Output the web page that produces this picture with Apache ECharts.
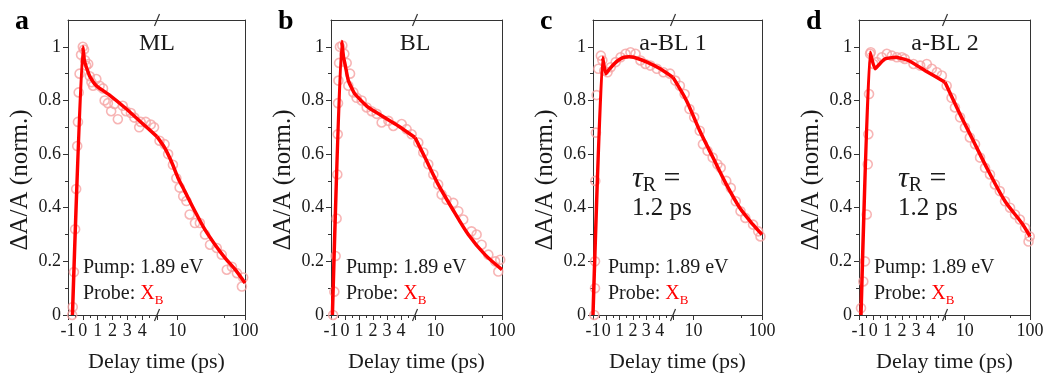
<!DOCTYPE html>
<html><head><meta charset="utf-8">
<script src="https://cdn.jsdelivr.net/npm/echarts@6/dist/echarts.min.js"></script>
<style>html,body{margin:0;padding:0;background:#fff}#c{width:1048px;height:376px}</style>
</head><body><div id="c"></div>
<script>
// ---------- texts / ticks ----------
const panelLetters = ['a', 'b', 'c', 'd'];
const panelTitles = ['ML', 'BL', 'a-BL 1', 'a-BL 2'];
const xTickLabelsLin = [-1, 0, 1, 2, 3, 4];
const xTickLabelsLog = [10, 100];
const xMinorLog = [50];
const yTickLabels = [0, 0.2, 0.4, 0.6, 0.8, 1];
const yMinorTicks = [0.1, 0.3, 0.5, 0.7, 0.9];
const showTau = [false, false, true, true];
const pumpText = 'Pump: 1.89 eV';
const tauValue = '1.2 ps';
const BREAK_T = 5;

// ---------- data: [delay (ps), ΔA/A norm.] ----------
const mlPoints = [[-0.72,0.0],[-0.68,0.03],[-0.6,0.16],[-0.52,0.32],[-0.45,0.47],[-0.38,0.63],[-0.33,0.72],[-0.28,0.83],[-0.22,0.9],[-0.12,0.97],[0.0,1.0],[0.08,0.99],[0.15,0.95],[0.22,0.93],[0.36,0.936],[0.47,0.89],[0.58,0.868],[0.69,0.855],[0.91,0.88],[1.13,0.855],[1.36,0.845],[1.47,0.8],[1.69,0.79],[1.91,0.76],[2.13,0.787],[2.36,0.73],[2.69,0.78],[2.91,0.76],[3.24,0.753],[3.47,0.736],[3.8,0.7],[3.9,0.72],[4.24,0.72],[4.58,0.71],[4.8,0.7],
  [5.45,0.65],[6.47,0.637],[7.3,0.6],[8.6,0.56],[9.66,0.51],[10.8,0.475],[12.2,0.443],[13.6,0.425],[15.2,0.375],[18.2,0.343],[21.5,0.343],[25.6,0.3],[30.4,0.262],[38.2,0.25],[45.3,0.225],[53.8,0.169],[64,0.18],[76,0.156],[90,0.106],[94,0.14]];
const mlFit = [[-0.7,0.0],[0.0,1.0],[0.1,0.95],[0.24,0.924],[0.47,0.89],[0.91,0.855],[1.8,0.82],[2.9,0.77],[4.0,0.715],[5,0.665],[6.47,0.624],[8.1,0.574],[10.2,0.512],[12.85,0.462],[18.2,0.387],[25.6,0.318],[36.1,0.262],[50.9,0.212],[71.8,0.169],[100,0.119]];

const blPoints = [[-0.85,0.0],[-0.76,0.087],[-0.67,0.22],[-0.6,0.36],[-0.55,0.524],[-0.52,0.674],[-0.5,0.79],[-0.47,0.874],[-0.42,0.94],[-0.36,1.0],[-0.19,1.005],[-0.05,0.974],[0.12,0.94],[0.24,0.855],[0.36,0.9],[0.6,0.83],[0.83,0.81],[1.19,0.8],[1.55,0.774],[1.9,0.76],[2.26,0.75],[2.62,0.718],[3.1,0.724],[3.45,0.705],[4.05,0.712],[4.4,0.693],[4.76,0.674],
  [5.6,0.643],[6.65,0.606],[7.9,0.562],[9.4,0.524],[11.1,0.487],[12.5,0.449],[14.8,0.43],[18.7,0.418],[22.2,0.387],[26.3,0.356],[35,0.312],[41.7,0.3],[49.6,0.262],[62.5,0.225],[79,0.2],[88,0.162],[94,0.206]];
const blFit = [[-0.9,0.0],[-0.24,1.02],[-0.1,0.96],[0.0,0.936],[0.24,0.874],[0.71,0.824],[1.67,0.774],[2.62,0.743],[3.81,0.705],[5,0.662],[7.05,0.587],[11.1,0.487],[17.7,0.4],[31.3,0.3],[55.6,0.225],[100,0.169]];

const abl1Points = [[-0.9,0.0],[-0.85,0.1],[-0.85,0.2],[-0.83,0.5],[-0.78,0.68],[-0.73,0.82],[-0.6,0.918],[-0.41,0.967],[-0.3,0.95],[-0.16,0.911],[0.09,0.905],[0.33,0.924],[0.7,0.943],[1.07,0.961],[1.44,0.974],[1.81,0.98],[2.19,0.974],[2.56,0.949],[2.93,0.936],[3.3,0.93],[3.79,0.918],[4.28,0.905],[4.78,0.9],
  [5.4,0.874],[6.3,0.855],[7.4,0.824],[8.7,0.768],[10.2,0.737],[12.3,0.687],[13.7,0.637],[16,0.612],[19,0.587],[22.3,0.562],[24.9,0.549],[30,0.5],[35,0.474],[41.3,0.424],[48.5,0.387],[57,0.362],[74,0.337],[88,0.312],[95,0.293]];
const abl1Fit = [[-1.0,0.0],[-0.28,0.96],[-0.04,0.9],[0.2,0.915],[0.58,0.936],[0.9,0.95],[1.32,0.961],[1.7,0.963],[2.06,0.961],[3.05,0.943],[4.04,0.918],[5,0.886],[7.85,0.8],[12.3,0.687],[19.2,0.587],[30.1,0.487],[47.2,0.4],[74,0.337],[100,0.3]];

const abl2Points = [[-0.86,0.026],[-0.7,0.125],[-0.58,0.2],[-0.46,0.375],[-0.39,0.562],[-0.35,0.674],[-0.3,0.824],[-0.23,0.974],[-0.18,0.98],[0.0,0.936],[0.24,0.943],[0.59,0.961],[0.94,0.974],[1.29,0.967],[1.64,0.961],[1.99,0.961],[2.2,0.955],[2.8,0.936],[3.27,0.93],[3.73,0.936],[4.08,0.918],[4.43,0.905],[4.78,0.893],
  [5.3,0.855],[6.3,0.81],[7.1,0.774],[8.5,0.737],[10.1,0.699],[12,0.662],[14.4,0.637],[17.2,0.587],[20.5,0.549],[24.4,0.524],[29,0.487],[34.5,0.462],[41.5,0.424],[49.5,0.4],[59,0.375],[70,0.356],[84,0.325],[99,0.293],[95,0.274]];
const abl2Fit = [[-0.86,0.0],[-0.23,0.98],[0.12,0.918],[0.5,0.94],[0.82,0.955],[1.52,0.961],[2.45,0.949],[3.62,0.911],[5,0.868],[8,0.762],[12.8,0.662],[23.1,0.537],[41.5,0.424],[74.8,0.343],[100,0.293]];

const allPoints = [mlPoints, blPoints, abl1Points, abl2Points];
const allFits = [mlFit, blFit, abl1Fit, abl2Fit];

// ---------- layout (pixels) ----------
const LAYOUT = [
  {l: 68, b: 157, r: 245},
  {l: 331, b: 415, r: 502},
  {l: 593, b: 673, r: 762},
  {l: 859, b: 945, r: 1030}
];
const TOP = 20, BOT = 315;
const FONT = 'Liberation Serif';
const INK = '#1a1a1a';
const AX = '#333';
const RED = '#ff0000';
const PINK = '#f5a3a3';

const grids = [], xAxes = [], yAxes = [], series = [], graphics = [];
const labelStyle = {fontFamily: FONT, fontSize: 18, color: INK};

LAYOUT.forEach((L, i) => {
  const gLin = grids.length;
  grids.push({left: L.l, top: TOP, width: L.b - L.l, height: BOT - TOP, containLabel: false, outerBoundsMode: 'none'});
  const gLog = grids.length;
  grids.push({left: L.b, top: TOP, width: L.r - L.b, height: BOT - TOP, containLabel: false, outerBoundsMode: 'none'});

  const xb = xAxes.length;
  // linear bottom
  xAxes.push({type: 'value', gridIndex: gLin, position: 'bottom', min: -1, max: BREAK_T, interval: 1,
    axisLine: {show: true, onZero: false, lineStyle: {color: AX, width: 1}},
    axisTick: {show: true, inside: false, length: 5, lineStyle: {color: AX}},
    minorTick: {show: true, splitNumber: 2, length: 3, lineStyle: {color: AX}},
    axisLabel: Object.assign({customValues: xTickLabelsLin, margin: 7, formatter: v => String(v)}, labelStyle),
    splitLine: {show: false}, minorSplitLine: {show: false}});
  // linear top (frame)
  xAxes.push({type: 'value', gridIndex: gLin, position: 'top', min: -1, max: BREAK_T,
    axisLine: {show: true, onZero: false, lineStyle: {color: AX, width: 1}},
    axisTick: {show: false}, axisLabel: {show: false}, splitLine: {show: false}});
  // log bottom
  xAxes.push({type: 'log', logBase: 10, gridIndex: gLog, position: 'bottom', min: BREAK_T, max: 100,
    axisLine: {show: true, onZero: false, lineStyle: {color: AX, width: 1}},
    axisTick: {show: true, customValues: xTickLabelsLog, length: 5, lineStyle: {color: AX}},
    axisLabel: Object.assign({customValues: xTickLabelsLog, margin: 7, formatter: v => String(v)}, labelStyle),
    splitLine: {show: false}, minorTick: {show: false}});
  // log top (frame)
  xAxes.push({type: 'log', logBase: 10, gridIndex: gLog, position: 'top', min: BREAK_T, max: 100,
    axisLine: {show: true, onZero: false, lineStyle: {color: AX, width: 1}},
    axisTick: {show: false}, axisLabel: {show: false}, splitLine: {show: false}});
  // log minor tick
  xAxes.push({type: 'log', logBase: 10, gridIndex: gLog, position: 'bottom', min: BREAK_T, max: 100,
    axisLine: {show: false, onZero: false},
    axisTick: {show: true, customValues: xMinorLog, length: 3, lineStyle: {color: AX}},
    axisLabel: {show: false}, splitLine: {show: false}});

  const yb = yAxes.length;
  yAxes.push({type: 'value', gridIndex: gLin, position: 'left', min: 0, max: 1.1, interval: 0.2,
    axisLine: {show: true, onZero: false, lineStyle: {color: AX, width: 1}},
    axisTick: {show: true, customValues: yTickLabels, length: 5, lineStyle: {color: AX}},
    axisLabel: Object.assign({customValues: yTickLabels, margin: 7, formatter: v => String(+v.toFixed(1))}, labelStyle),
    splitLine: {show: false}});
  yAxes.push({type: 'value', gridIndex: gLin, position: 'left', min: 0, max: 1.1,
    axisLine: {show: false, onZero: false},
    axisTick: {show: true, customValues: yMinorTicks, length: 3, lineStyle: {color: AX}},
    axisLabel: {show: false}, splitLine: {show: false}});
  yAxes.push({type: 'value', gridIndex: gLog, position: 'right', min: 0, max: 1.1,
    axisLine: {show: true, onZero: false, lineStyle: {color: AX, width: 1}},
    axisTick: {show: false}, axisLabel: {show: false}, splitLine: {show: false}});

  const pts = allPoints[i], fit = allFits[i];
  const scatterStyle = {color: 'rgba(0,0,0,0)', borderColor: PINK, borderWidth: 1.6};
  series.push({type: 'scatter', xAxisIndex: xb, yAxisIndex: yb, data: pts.filter(p => p[0] <= BREAK_T),
    symbol: 'circle', symbolSize: 9, itemStyle: scatterStyle, z: 2, silent: true});
  series.push({type: 'scatter', xAxisIndex: xb + 2, yAxisIndex: yb + 2, data: pts.filter(p => p[0] > BREAK_T),
    symbol: 'circle', symbolSize: 9, itemStyle: scatterStyle, z: 2, silent: true});
  series.push({type: 'line', xAxisIndex: xb, yAxisIndex: yb, data: fit.filter(p => p[0] <= BREAK_T),
    showSymbol: false, smooth: 0.15, lineStyle: {color: RED, width: 3.5}, z: 3, silent: true});
  series.push({type: 'line', xAxisIndex: xb + 2, yAxisIndex: yb + 2, data: fit.filter(p => p[0] >= BREAK_T),
    showSymbol: false, smooth: 0.3, lineStyle: {color: RED, width: 3.5}, z: 3, silent: true});

  // ---- decorations ----
  const cx = (L.l + L.r) / 2;
  graphics.push({type: 'text', left: L.l - 53, top: 8, style: {text: panelLetters[i], font: 'bold 28px "' + FONT + '"', fill: '#000'}});
  graphics.push({type: 'text', x: L.b, y: 44, style: {text: panelTitles[i], font: '24px "' + FONT + '"', fill: INK, align: 'center', verticalAlign: 'middle'}, z: 10});
  graphics.push({type: 'text', x: cx, y: 362, style: {text: 'Delay time (ps)', font: '22px "' + FONT + '"', fill: INK, align: 'center', verticalAlign: 'middle'}});
  graphics.push({type: 'text', x: L.l - 48, y: 180, rotation: Math.PI / 2, style: {text: 'ΔA/A (norm.)', font: '25px "' + FONT + '"', fill: INK, align: 'center', verticalAlign: 'middle'}});
  graphics.push({type: 'text', x: L.l + 15, y: 268, style: {text: pumpText, font: '20px "' + FONT + '"', fill: INK, verticalAlign: 'middle'}, z: 10});
  graphics.push({type: 'text', x: L.l + 15, y: 294, style: {
    text: '{t|Probe: }{x|X}{s|B}', verticalAlign: 'middle',
    rich: {
      t: {font: '20px "' + FONT + '"', fill: INK, lineHeight: 26},
      x: {font: '20px "' + FONT + '"', fill: RED, lineHeight: 26},
      s: {font: '13px "' + FONT + '"', fill: RED, lineHeight: 15, verticalAlign: 'bottom'}
    }}, z: 10});
  if (showTau[i]) {
    graphics.push({type: 'text', x: L.l + 39, y: 179, style: {
      text: '{tau|τ}{s|R}{t| =}', verticalAlign: 'middle',
      rich: {
        tau: {font: 'italic 30px "' + FONT + '"', fill: INK, lineHeight: 34},
        t: {font: '30px "' + FONT + '"', fill: INK, lineHeight: 34},
        s: {font: '20px "' + FONT + '"', fill: INK, lineHeight: 22, verticalAlign: 'bottom'}
      }}, z: 10});
    graphics.push({type: 'text', x: L.l + 39, y: 208, style: {text: tauValue, font: '25px "' + FONT + '"', fill: INK, verticalAlign: 'middle'}, z: 10});
  }
  // axis-break marks
  [TOP, BOT].forEach(y => {
    graphics.push({type: 'line', shape: {x1: L.b - 2.5, y1: y + 6, x2: L.b + 2.5, y2: y - 6}, style: {stroke: AX, lineWidth: 1.2}, z: 20});
  });
});

const chart = echarts.init(document.getElementById('c'), null, {renderer: 'canvas'});
chart.setOption({
  backgroundColor: '#fff',
  animation: false,
  grid: grids,
  xAxis: xAxes,
  yAxis: yAxes,
  series: series,
  graphic: graphics
});
</script>
</body></html>
